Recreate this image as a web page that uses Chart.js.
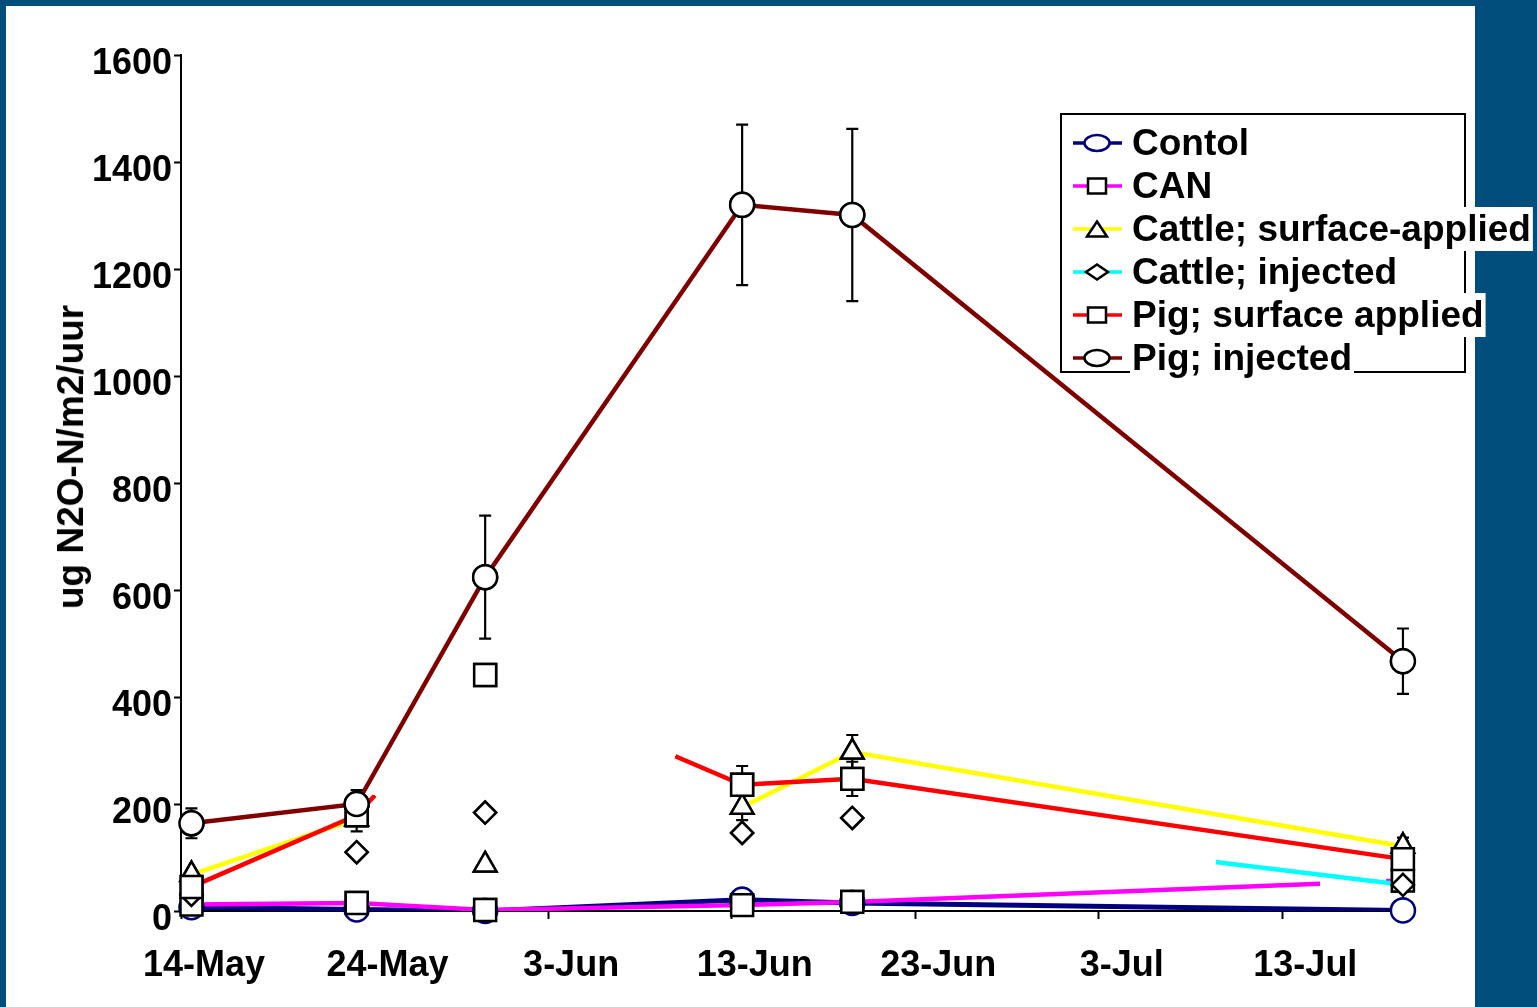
<!DOCTYPE html>
<html>
<head>
<meta charset="utf-8">
<style>
  html, body { margin: 0; padding: 0; background: #014d7b; }
  #wrap { position: relative; width: 1537px; height: 1007px; }
  #chart { display: block; }
  #yTitle {
    position: absolute; left: 71px; top: 457px;
    transform: translate(-50%, -50%) rotate(-90deg);
    font: bold 37px "Liberation Sans", Arial, sans-serif;
    white-space: nowrap; color: #000;
  }
</style>
<script src="https://cdn.jsdelivr.net/npm/chart.js@4.4.0/dist/chart.umd.min.js"></script>
</head>
<body>
<div id="wrap">
  <canvas id="chart" width="1537" height="1007"></canvas>
  <div id="yTitle">ug N2O-N/m2/uur</div>
</div>
<script>
// x axis: days counted from 14-May
const tickDays = [0, 10, 20, 30, 40, 50, 60];
const tickLabels = ['14-May', '24-May', '3-Jun', '13-Jun', '23-Jun', '3-Jul', '13-Jul'];
// sampling moments (14-May, 23-May, 30-May, 13-Jun, 19-Jun, 19-Jul, afternoon)
const sampleDays = [0.57, 9.57, 16.57, 30.57, 36.57, 66.57];
const yTicks = [0, 200, 400, 600, 800, 1000, 1200, 1400, 1600];

const contol = [7, 3, 0, 21, 15, 1];
const can = [12, 15, 2, 11, 17, 57];
const cattleSurface = [68, 172, 86, 194, 297, 121];
const cattleInjected = [30, 110, 184, 146, 174, 49];
const pigSurface = [45, 179, 441, 236, 247, 97];
const pigInjected = [164, 200, 624, 1320, 1301, 467];

// +/- error per sample
const errCattleSurface = [5, 0, 0, 24, 32, 16];
const errPigSurface = [0, 30, 0, 35, 32, 0];
const errPigInjected = [28, 26, 115, 150, 161, 61];

const FONT = '"Liberation Sans", Arial, sans-serif';

const series = [
  { label: 'Contol', values: contol, color: '#000080', marker: 'circle', edge: '#000080', width: 5 },
  { label: 'CAN', values: can, color: '#ff00ff', marker: 'rect', edge: '#000', width: 4.5 },
  { label: 'Cattle; surface-applied', values: cattleSurface, color: '#ffff00', marker: 'triangle', edge: '#000', width: 4.5, err: errCattleSurface },
  { label: 'Cattle; injected', values: cattleInjected, color: '#00ffff', marker: 'rectRot', edge: '#000', width: 4.5 },
  { label: 'Pig; surface applied', values: pigSurface, color: '#ff0000', marker: 'rect', edge: '#000', width: 4.5, err: errPigSurface },
  { label: 'Pig; injected', values: pigInjected, color: '#800000', marker: 'circle', edge: '#000', width: 4.5, err: errPigInjected }
];

// parts of line segments that show up in the original (others are lost in the picture)
const lineParts = {
  'CAN': { 4: [[0, 0.85], [0.97, 1]] },
  'Cattle; surface-applied': { 1: [], 2: [] },
  'Cattle; injected': { 0: [], 1: [], 2: [], 3: [], 4: [[0.66, 1]] },
  'Pig; surface applied': { 1: [[0, 0.14]], 2: [[0.74, 1]] }
};

const markerRadius = { circle: 12, rect: 15.5, triangle: 13, rectRot: 11 };
// legend marker width / height (squashed like the original)
const legendMarker = { circle: [25, 16], rect: [18, 15], triangle: [20, 15], rectRot: [22, 15] };

function segColor(label, color) {
  return ctx => {
    const parts = (lineParts[label] || {})[ctx.p0DataIndex];
    if (!parts) return color;
    if (!parts.length) return 'rgba(0,0,0,0)';
    const clear = 'rgba(0,0,0,0)';
    const g = ctx.chart.ctx.createLinearGradient(ctx.p0.x, ctx.p0.y, ctx.p1.x, ctx.p1.y);
    parts.forEach(([a, b]) => {
      g.addColorStop(a, clear); g.addColorStop(a, color);
      g.addColorStop(b, color); g.addColorStop(b, clear);
    });
    g.tag = label + ctx.p0DataIndex; // keep segments apart
    return g;
  };
}

function drawMarker(ctx, style, x, y, w, h, edge) {
  const a = w / 2, b = h / 2;
  ctx.beginPath();
  if (style === 'circle') {
    ctx.ellipse(x, y, a, b, 0, 0, Math.PI * 2);
  } else if (style === 'rect') {
    ctx.rect(x - a, y - b, w, h);
  } else if (style === 'triangle') {
    ctx.moveTo(x, y - b);
    ctx.lineTo(x + a, y + b);
    ctx.lineTo(x - a, y + b);
    ctx.closePath();
  } else {
    ctx.moveTo(x - a, y); ctx.lineTo(x, y - b); ctx.lineTo(x + a, y); ctx.lineTo(x, y + b);
    ctx.closePath();
  }
  ctx.fillStyle = '#fff';
  ctx.fill();
  ctx.strokeStyle = edge;
  ctx.lineWidth = 2.5;
  ctx.stroke();
}

const overlay = {
  id: 'overlay',
  beforeDraw(chart) {
    const ctx = chart.ctx;
    ctx.save();
    ctx.fillStyle = '#fff';
    ctx.fillRect(6, 6, 1469, 1001);
    ctx.restore();
  },
  afterDatasetsDraw(chart) {
    const ctx = chart.ctx;
    const y = chart.scales.y;
    ctx.save();
    // error bars
    ctx.strokeStyle = '#000';
    ctx.lineWidth = 2.2;
    series.forEach((s, i) => {
      if (!s.err) return;
      chart.getDatasetMeta(i).data.forEach((pt, j) => {
        const e = s.err[j];
        if (!e) return;
        const top = y.getPixelForValue(s.values[j] + e);
        const bot = y.getPixelForValue(s.values[j] - e);
        ctx.beginPath();
        ctx.moveTo(pt.x, top); ctx.lineTo(pt.x, bot);
        ctx.moveTo(pt.x - 6, top); ctx.lineTo(pt.x + 6, top);
        ctx.moveTo(pt.x - 6, bot); ctx.lineTo(pt.x + 6, bot);
        ctx.stroke();
      });
    });
    // markers on top of all lines
    series.forEach((s, i) => {
      chart.getDatasetMeta(i).data.forEach(pt => pt.draw(ctx, chart.chartArea));
    });
    ctx.restore();
  },
  afterDraw(chart) {
    const ctx = chart.ctx;
    ctx.save();
    ctx.strokeStyle = '#000';
    ctx.lineWidth = 2;
    ctx.strokeRect(1061, 114, 404, 258);
    ctx.font = 'bold 37px ' + FONT;
    ctx.textBaseline = 'middle';
    series.forEach((s, i) => {
      const ry = 143 + i * 43;
      const w = ctx.measureText(s.label).width;
      ctx.fillStyle = '#fff';
      ctx.fillRect(1130, ry - 22, w + 4, 44);
      ctx.strokeStyle = s.color;
      ctx.lineWidth = 3.5;
      ctx.beginPath();
      ctx.moveTo(1073, ry); ctx.lineTo(1122, ry);
      ctx.stroke();
      const [mw, mh] = legendMarker[s.marker];
      drawMarker(ctx, s.marker, 1097, ry, mw, mh, s.edge);
      ctx.fillStyle = '#000';
      ctx.fillText(s.label, 1132, ry + 2);
    });
    ctx.restore();
  }
};

new Chart(document.getElementById('chart'), {
  type: 'line',
  data: {
    datasets: series.map((s, i) => ({
      label: s.label,
      data: sampleDays.map((d, k) => ({ x: d, y: s.values[k] })),
      borderColor: s.color,
      borderWidth: s.width,
      pointStyle: s.marker,
      pointRadius: markerRadius[s.marker],
      pointBackgroundColor: '#fff',
      pointBorderColor: s.edge,
      pointBorderWidth: 2.5,
      tension: 0,
      order: 6 - i,
      segment: { borderColor: segColor(s.label, s.color) }
    }))
  },
  options: {
    responsive: false,
    animation: false,
    events: [],
    layout: { padding: { top: 55, right: 128, bottom: 0, left: 0 } },
    plugins: { legend: { display: false }, tooltip: { enabled: false } },
    scales: {
      x: {
        type: 'linear',
        min: 0,
        max: 66.9,
        afterBuildTicks: s => { s.ticks = tickDays.map(v => ({ value: v })); },
        afterFit: s => { s.height = 96; },
        grid: { drawOnChartArea: false, drawTicks: true, tickLength: 8, tickColor: '#000', tickWidth: 2 },
        border: { display: true, color: '#000', width: 2 },
        ticks: {
          callback: (v, i) => tickLabels[i],
          color: '#000',
          font: { family: FONT, size: 36, weight: 'bold' },
          padding: 25,
          labelOffset: 23,
          maxRotation: 0,
          autoSkip: false
        }
      },
      y: {
        min: 0,
        max: 1600,
        afterBuildTicks: s => { s.ticks = yTicks.map(v => ({ value: v })); },
        afterFit: s => { s.width = 181; },
        grid: { drawOnChartArea: false, drawTicks: true, tickLength: 7, tickColor: '#000', tickWidth: 2 },
        border: { display: true, color: '#000', width: 2 },
        ticks: {
          callback: v => String(v),
          color: '#000',
          font: { family: FONT, size: 36, weight: 'bold' },
          padding: 2,
          labelOffset: 9
        }
      }
    }
  },
  plugins: [overlay]
});
</script>
</body>
</html>
